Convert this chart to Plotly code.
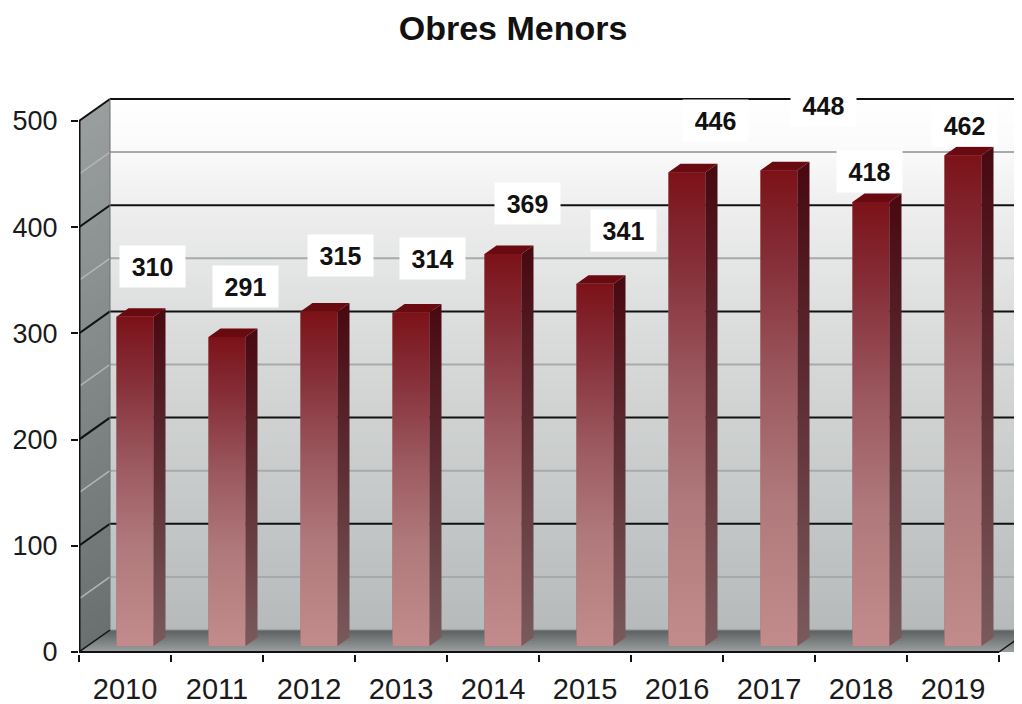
import plotly.graph_objects as go

# ---------------- data ----------------
years = [2010, 2011, 2012, 2013, 2014, 2015, 2016, 2017, 2018, 2019]
values = [310, 291, 315, 314, 369, 341, 446, 448, 418, 462]
y_ticks = [0, 100, 200, 300, 400, 500]
title_text = "Obres Menors"

# label placement offsets in pixels (x right, y up) relative to bar top centre
label_dx = [17.5, 18.5, 21.5, 21.5, 24.5, 28.5, 28.5, 44.5, -1.5, 1.5]
label_dy = [50, 50, 56, 54, 51, 53, 52, 65, 31, 30]

# ---------------- geometry (pixel -> axis units) ----------------
PAGE_PAD = 8   # default body margin of the html page
FIG_W, FIG_H = 1022 - PAGE_PAD, 704 - PAGE_PAD
KX = 92.0      # px per category
KY = 1.062     # px per unit
BAR_DX, BAR_DY = 10 / KX, 6 / KY          # bar plane vs front plane
BACK_DX, BACK_DY = 31 / KX, 22 / KY       # back wall vs front plane
SIDE_DX, SIDE_DY = 12 / KX, 8.5 / KY      # bar depth
BAR_W = 37 / KX
X0 = years[0] - 0.5
X_END = years[-1] + 0.5
XMAX = X0 + 943 / KX
YMIN = -2 / KY
YMAX = 554 / KY
TOP = y_ticks[-1]

FONT = "Liberation Sans, Arial, Helvetica, sans-serif"


def hex2rgb(h):
    h = h.lstrip('#')
    return [int(h[i:i + 2], 16) for i in (0, 2, 4)]


def scale_color(stops, t):
    t = max(0.0, min(1.0, t))
    for (t0, c0), (t1, c1) in zip(stops[:-1], stops[1:]):
        if t0 <= t <= t1:
            f = 0 if t1 == t0 else (t - t0) / (t1 - t0)
            a, b = hex2rgb(c0), hex2rgb(c1)
            return 'rgb(%d,%d,%d)' % tuple(round(a[i] + (b[i] - a[i]) * f) for i in range(3))
    return stops[-1][1]


shapes = []

# back wall gradient bands
back_stops = [(0, '#b6baba'), (0.2, '#c3c6c6'), (0.4, '#d0d2d2'), (0.6, '#dddfdf'),
              (0.8, '#eeeeee'), (0.9, '#fafafa'), (1, '#ffffff')]
N = 110
for i in range(N):
    v0 = TOP * i / N
    v1 = TOP * (i + 1) / N
    shapes.append(dict(type='rect', xref='x', yref='y', layer='below',
                       x0=X0 + BACK_DX, x1=XMAX + 1, y0=v0 + BACK_DY,
                       y1=min(v1 + BACK_DY + 1.2, TOP + BACK_DY),
                       fillcolor=scale_color(back_stops, (i + 0.5) / N), line_width=0))

# left wall gradient bands
left_stops = [(0, '#6a7070'), (0.5, '#828888'), (1, '#9a9e9e')]
for i in range(N):
    v0 = TOP * i / N
    v1 = min(TOP * (i + 1) / N + 1.2, TOP)
    path = 'M %f %f L %f %f L %f %f L %f %f Z' % (
        X0, v0, X0 + BACK_DX, v0 + BACK_DY, X0 + BACK_DX, v1 + BACK_DY, X0, v1)
    shapes.append(dict(type='path', xref='x', yref='y', layer='below', path=path,
                       fillcolor=scale_color(left_stops, (i + 0.5) / N), line_width=0))

# floor gradient bands
floor_stops = [(0, '#9ea2a2'), (0.5, '#7a7e7e'), (1, '#5c6060')]
NF = 14
for i in range(NF):
    f0 = i / NF
    f1 = min((i + 1) / NF + 0.04, 1)
    y0, y1 = f0 * BACK_DY, f1 * BACK_DY
    path = 'M %f %f L %f %f L %f %f L %f %f Z' % (
        X0 + f0 * BACK_DX, y0, X_END + f0 * BACK_DX + 1, y0,
        X_END + f1 * BACK_DX + 1, y1, X0 + f1 * BACK_DX, y1)
    shapes.append(dict(type='path', xref='x', yref='y', layer='below', path=path,
                       fillcolor=scale_color(floor_stops, (i + 0.5) / NF), line_width=0))

# grid lines (major at ticks, minor halfway)
step = y_ticks[1] - y_ticks[0]
for t in y_ticks:
    for v, major in ((t, True), (t - step / 2, False)):
        if v <= 0:
            continue
        col_back = '#111111' if major else '#a6aaaa'
        col_left = '#111111' if major else '#b2b6b6'
        shapes.append(dict(type='line', xref='x', yref='y', layer='below',
                           x0=X0 + BACK_DX, x1=XMAX + 1, y0=v + BACK_DY, y1=v + BACK_DY,
                           line=dict(color=col_back, width=2)))
        shapes.append(dict(type='line', xref='x', yref='y', layer='below',
                           x0=X0, x1=X0 + BACK_DX, y0=v, y1=v + BACK_DY,
                           line=dict(color=col_left, width=2 if major else 1.5)))

# edges of the box
shapes += [
    dict(type='line', xref='x', yref='y', layer='below', x0=X0 + BACK_DX, x1=X0 + BACK_DX,
         y0=BACK_DY, y1=TOP + BACK_DY, line=dict(color='#6c7070', width=1)),
    dict(type='line', xref='x', yref='y', layer='below', x0=X0 + BACK_DX, x1=XMAX + 1,
         y0=BACK_DY, y1=BACK_DY, line=dict(color='#8a8e8e', width=1)),
    dict(type='line', xref='x', yref='y', layer='below', x0=X0, x1=X0 + BACK_DX,
         y0=0, y1=BACK_DY, line=dict(color='#111111', width=1.5)),
    dict(type='line', xref='x', yref='y', layer='above', x0=X0, x1=X0,
         y0=0, y1=TOP, line=dict(color='#111111', width=3)),
    dict(type='line', xref='x', yref='y', layer='above', x0=X0, x1=X_END,
         y0=0, y1=0, line=dict(color='#111111', width=2)),
    dict(type='line', xref='x', yref='y', layer='above', x0=X_END, x1=X_END + BACK_DX,
         y0=0, y1=BACK_DY, line=dict(color='#111111', width=1.5)),
]

fig = go.Figure()

# the bars (front faces)
fig.add_trace(go.Bar(
    x=years, y=values, base=BAR_DY, width=BAR_W, offset=BAR_DX - BAR_W / 2,
    marker=dict(color='#a05a60', line=dict(width=0)),
    hoverinfo='x+y', showlegend=False,
))

front_scale = [[0, '#c28c8c'], [0.3, '#b07a7c'], [0.55, '#9c5a60'],
               [0.8, '#86303a'], [1, '#7c1218']]
side_scale = [[0, '#7a5a5c'], [0.5, '#5e3036'], [1, '#480810']]

for yr, v in zip(years, values):
    xl = yr + BAR_DX - BAR_W / 2
    xr = xl + BAR_W
    b = BAR_DY
    # front face gradient
    fig.add_trace(go.Scatter(
        x=[xl, xr, xr, xl, xl], y=[b, b, b + v, b + v, b], mode='lines',
        line=dict(width=0), fill='toself',
        fillgradient=dict(type='vertical', colorscale=front_scale),
        hoverinfo='skip', showlegend=False))
    # side face
    fig.add_trace(go.Scatter(
        x=[xr, xr + SIDE_DX, xr + SIDE_DX, xr, xr],
        y=[b, b + SIDE_DY, b + v + SIDE_DY, b + v, b], mode='lines',
        line=dict(width=0), fill='toself',
        fillgradient=dict(type='vertical', colorscale=side_scale),
        hoverinfo='skip', showlegend=False))
    # top face
    fig.add_trace(go.Scatter(
        x=[xl, xr, xr + SIDE_DX, xl + SIDE_DX, xl],
        y=[b + v, b + v, b + v + SIDE_DY, b + v + SIDE_DY, b + v], mode='lines',
        line=dict(width=0), fill='toself', fillcolor='#680a10',
        hoverinfo='skip', showlegend=False))

annotations = []
for yr, v, dx, dy in zip(years, values, label_dx, label_dy):
    annotations.append(dict(
        x=yr + BAR_DX, y=v + BAR_DY, xref='x', yref='y', text='<b>%d</b>' % v,
        showarrow=False, xanchor='center', yanchor='middle', xshift=dx, yshift=dy,
        font=dict(family=FONT, size=25, color='#111111'),
        bgcolor='#ffffff', borderpad=6, width=53, height=29))

fig.update_layout(
    width=FIG_W, height=FIG_H,
    margin=dict(l=79 - PAGE_PAD, r=0, t=98 - PAGE_PAD, b=50, pad=0),
    paper_bgcolor='#ffffff', plot_bgcolor='#ffffff',
    title=dict(text='<b>%s</b>' % title_text, x=(513 - PAGE_PAD) / FIG_W, xanchor='center',
               y=1 - (28 - PAGE_PAD) / FIG_H, yanchor='middle', yref='container',
               font=dict(family=FONT, size=34, color='#111111')),
    xaxis=dict(range=[X0, XMAX], tickmode='array', tickvals=years,
               ticktext=[str(y) for y in years], ticks='', showgrid=False,
               zeroline=False, showline=False, ticklabelstandoff=15,
               tickfont=dict(family=FONT, size=29, color='#1a1a1a'),
               minor=dict(tickmode='array',
                          tickvals=[y - 0.5 for y in years] + [years[-1] + 0.5],
                          ticks='outside', ticklen=7, tickwidth=1.5, tickcolor='#111111',
                          showgrid=False)),
    yaxis=dict(range=[YMIN, YMAX], tickmode='array', tickvals=y_ticks,
               ticks='outside', ticklen=7, tickwidth=1.5, tickcolor='#111111',
               showgrid=False, zeroline=False, showline=False, ticklabelstandoff=8,
               tickfont=dict(family=FONT, size=27, color='#1a1a1a')),
    shapes=shapes,
    annotations=annotations,
    barmode='overlay',
)

fig.write_html("out.html")
